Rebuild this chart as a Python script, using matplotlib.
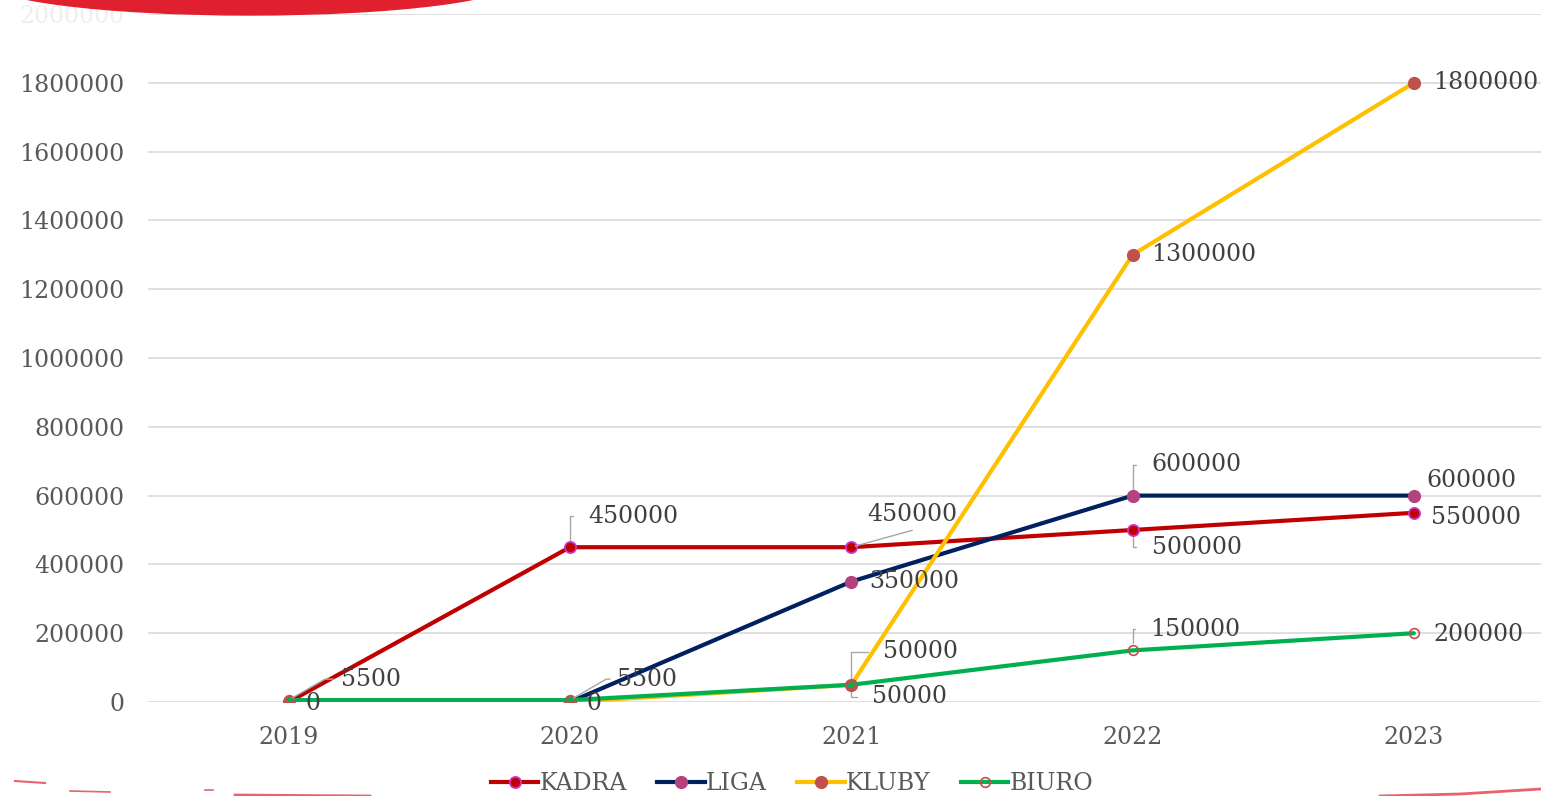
import numpy as np
import matplotlib.pyplot as plt
from matplotlib.patches import Ellipse
from matplotlib.lines import Line2D

years = ["2019", "2020", "2021", "2022", "2023"]
kadra = [0, 450000, 450000, 500000, 550000]
liga = [np.nan, 0, 350000, 600000, 600000]
kluby = [0, 0, 50000, 1300000, 1800000]
biuro = [5500, 5500, 50000, 150000, 200000]
y_ticks = list(range(0, 2000001, 200000))

series = {
    "KADRA": kadra,
    "LIGA": liga,
    "KLUBY": kluby,
    "BIURO": biuro,
}
styles = {
    "KADRA": dict(color="#C00000", mfc="#C00000", mec="#CC33CC", ms=8, mew=1.3),
    "LIGA": dict(color="#002060", mfc="#B4427E", mec="#B4427E", ms=8.5, mew=1),
    "KLUBY": dict(color="#FFC000", mfc="#C0504D", mec="#C0504D", ms=8.5, mew=1),
    "BIURO": dict(color="#00B050", mfc="none", mec="#C0504D", ms=7, mew=1.2),
}

# which data labels are shown: series, index, offset in pixels, leader type
labels = [
    ("KADRA", 0, 17, -2, None),
    ("BIURO", 0, 52, 21, "diag"),
    ("LIGA", 1, 17, -2, None),
    ("BIURO", 1, 47, 21, "diag"),
    ("KADRA", 1, 18, 31, "bracket"),
    ("KADRA", 2, 16, 33, "slant"),
    ("LIGA", 2, 18, 0, None),
    ("KLUBY", 2, 32, 33, "bracket"),
    ("BIURO", 2, 21, -12, "bracket"),
    ("LIGA", 3, 19, 31, "bracket"),
    ("KADRA", 3, 19, -17, "bracket"),
    ("KLUBY", 3, 19, 0, None),
    ("BIURO", 3, 18, 21, "bracket"),
    ("KLUBY", 4, 19, 0, None),
    ("LIGA", 4, 13, 15, None),
    ("KADRA", 4, 17, -5, None),
    ("BIURO", 4, 20, -1, None),
]

W, H = 1541, 796
plt.rcParams["font.family"] = ["DejaVu Serif"]
fs = 17

fig = plt.figure(figsize=(W / 100, H / 100), dpi=100)
ax = fig.add_axes([148 / W, 1 - 702 / H, (1554.5 - 148) / W, (702 - 14) / H])

x = np.arange(len(years))
for name, vals in series.items():
    st = styles[name]
    ax.plot(x, vals, color=st["color"], lw=3, marker="o", ms=st["ms"],
            mfc=st["mfc"], mec=st["mec"], mew=st["mew"], zorder=3,
            solid_capstyle="round")

grey = "#A6A6A6"
for name, i, dx, dy, leader in labels:
    v = series[name][i]
    props = None
    if leader == "bracket":
        props = dict(arrowstyle="-", color=grey, lw=1, relpos=(0, 0.5),
                     connectionstyle="angle,angleA=0,angleB=90,rad=0",
                     shrinkA=9, shrinkB=5)
    elif leader == "diag":
        props = dict(arrowstyle="-", color=grey, lw=1, relpos=(0, 0.5),
                     connectionstyle="angle,angleA=0,angleB=30,rad=0",
                     shrinkA=3, shrinkB=3)
    elif leader == "slant":
        props = dict(arrowstyle="-", color=grey, lw=1, relpos=(0.5, -0.2),
                     shrinkA=0, shrinkB=3)
    ax.annotate(f"{v:.0f}", xy=(i, v), xytext=(dx, dy),
                textcoords="offset pixels", ha="left", va="center",
                fontsize=fs, color="#404040", arrowprops=props, zorder=4)

ax.set_xlim(-0.5, 4.5)
ax.set_ylim(0, 2000000)
ax.set_xticks(x)
ax.set_xticklabels(years)
ax.set_yticks(y_ticks)
ax.set_yticklabels([str(t) for t in y_ticks])
ax.tick_params(axis="both", length=0, labelsize=fs, colors="#595959")
ax.tick_params(axis="y", pad=17)
ax.tick_params(axis="x", pad=17)
ax.get_yticklabels()[-1].set_color("#EFEFEF")
ax.grid(axis="y", color="#D9D9D9", lw=1.2)
ax.set_axisbelow(True)
for s in ax.spines.values():
    s.set_visible(False)

handles = [Line2D([], [], color=styles[n]["color"], lw=3, marker="o",
                  ms=styles[n]["ms"], mfc=styles[n]["mfc"],
                  mec=styles[n]["mec"], mew=styles[n]["mew"])
           for n in series]
fig.legend(handles, list(series), loc="center", ncol=4, frameon=False,
           bbox_to_anchor=(792 / W, 1 - 784 / H), fontsize=fs,
           labelcolor="#595959", handlelength=2.0, handletextpad=0.05,
           columnspacing=1.3)

# decorative red shapes from the slide
red = "#E0202E"
fig.patches.append(Ellipse((250 / W, 1 + 20 / H), 536 / W, 70 / H,
                           transform=fig.transFigure, color=red, zorder=5))
for xs, ys, lw in [((15, 45), (781, 783), 1.5), ((70, 110), (791, 792), 1.2),
                   ((205, 213), (790, 790), 1.2), ((235, 370), (795, 796), 2),
                   ((1380, 1460, 1541), (796, 794, 789), 2)]:
    fig.lines.append(Line2D([a / W for a in xs], [1 - b / H for b in ys],
                            transform=fig.transFigure, color=red, lw=lw,
                            alpha=0.7, zorder=5))

fig.savefig("out.png", dpi=100)
